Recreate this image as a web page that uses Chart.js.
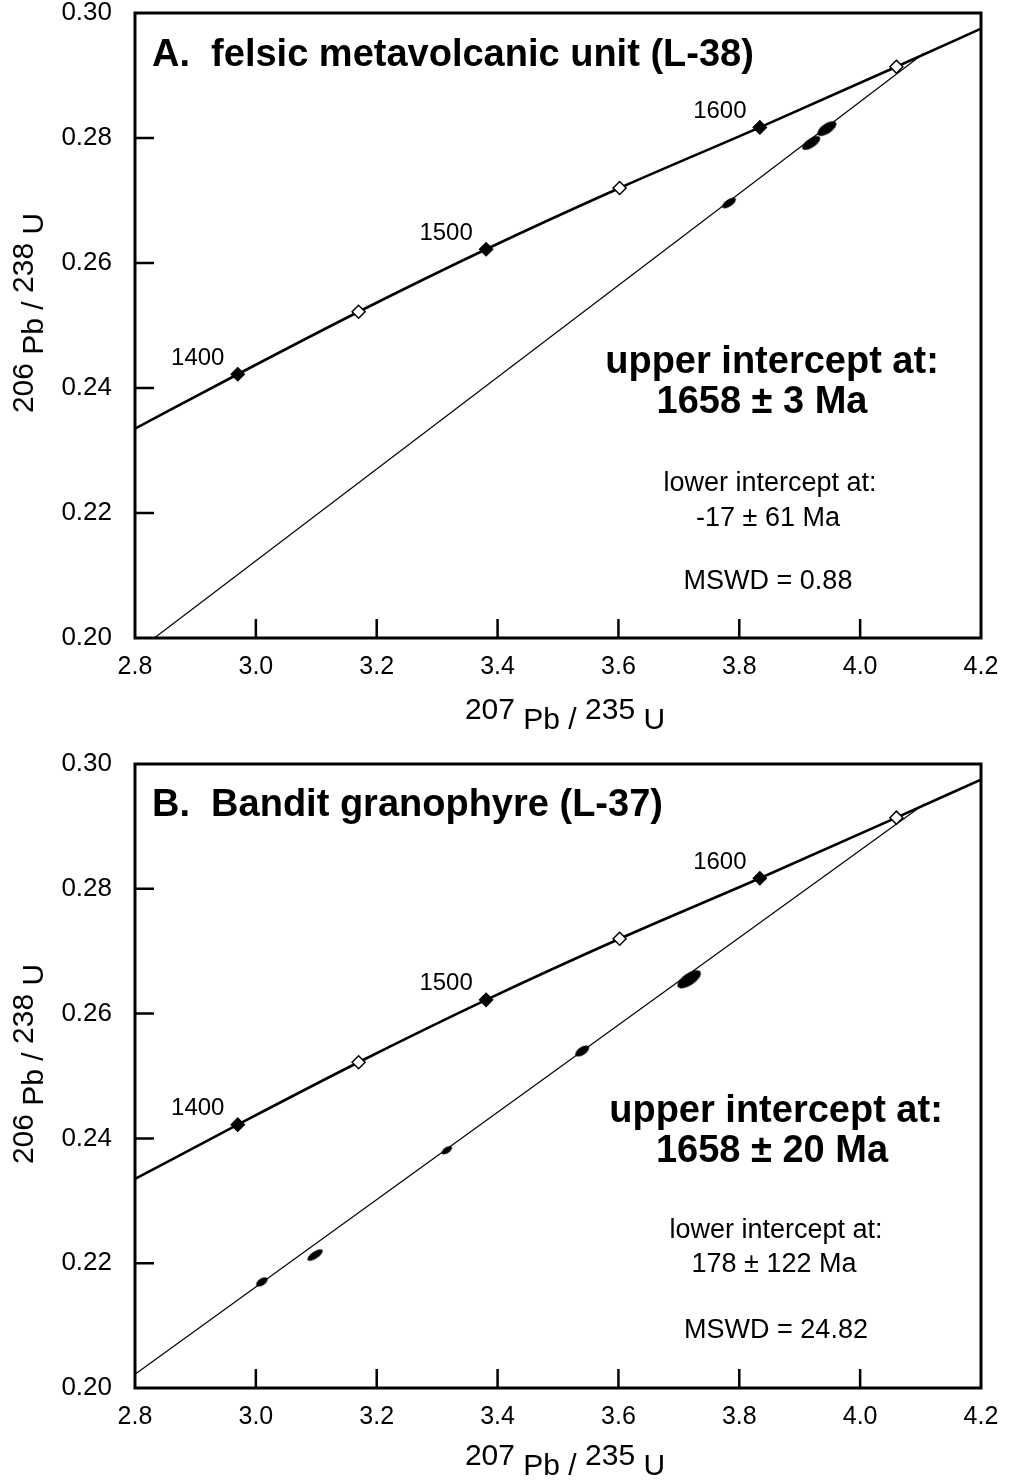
<!DOCTYPE html>
<html>
<head>
<meta charset="utf-8">
<script src="https://cdn.jsdelivr.net/npm/chart.js@4.4.0/dist/chart.umd.min.js"></script>
<style>
  html, body { margin: 0; padding: 0; background: #fff; }
  canvas { display: block; }
</style>
</head>
<body>
<canvas id="chartA" width="1009" height="741"></canvas>
<canvas id="chartB" width="1009" height="741"></canvas>
<script>
// Concordia curve (207Pb/235U vs 206Pb/238U)
const concordiaX = [2.800, 2.970, 3.170, 3.381, 3.602, 3.834, 4.060, 4.200];
const concordiaY = [0.2335, 0.2422, 0.2522, 0.2622, 0.2720, 0.2817, 0.2914, 0.2975];

// Age markers on the concordia (Ma)
const ages = [1400, 1450, 1500, 1550, 1600, 1650];
const ageX = [2.970, 3.170, 3.381, 3.602, 3.834, 4.060];
const ageY = [0.2422, 0.2522, 0.2622, 0.2720, 0.2817, 0.2914];
const labelledAges = [1400, 1500, 1600];

// A. felsic metavolcanic unit (L-38)
const discordiaAX = [2.832, 4.106];
const discordiaAY = [0.2000, 0.2936];
const zirconAX = [3.783, 3.919, 3.945];
const zirconAY = [0.2696, 0.2792, 0.2815];
const zirconALen = [16, 21, 22];
const zirconAWid = [7, 9, 10];

// B. Bandit granophyre (L-37)
const discordiaBX = [2.800, 4.106];
const discordiaBY = [0.2022, 0.2936];
const zirconBX = [3.010, 3.098, 3.316, 3.540, 3.717];
const zirconBY = [0.2170, 0.2213, 0.2381, 0.2540, 0.2655];
const zirconBLen = [13, 18, 12, 16, 27];
const zirconBWid = [7, 7, 6, 8, 12];

// Axis ticks
const xMin = 2.8, xMax = 4.2, xStep = 0.2;
const yMin = 0.20, yMax = 0.30, yStep = 0.02;

const FONT = "'Liberation Sans', Arial, Helvetica, sans-serif";

function toPoints(xs, ys) {
  return xs.map((x, i) => ({ x: x, y: ys[i] }));
}

// small filled ellipse used as the point style of an analysis
function ellipseImage(len, wid) {
  const c = document.createElement("canvas");
  c.width = Math.ceil(len) + 2;
  c.height = Math.ceil(wid) + 2;
  const g = c.getContext("2d");
  g.fillStyle = "#000";
  g.beginPath();
  g.ellipse(c.width / 2, c.height / 2, len / 2, wid / 2, 0, 0, Math.PI * 2);
  g.fill();
  return c;
}

// text with raised isotope numbers, e.g. 207 Pb / 235 U
function drawIsotopeLabel(ctx, cx, cy, parts) {
  ctx.font = "30px " + FONT;
  ctx.textAlign = "left";
  ctx.textBaseline = "alphabetic";
  const total = parts.reduce((s, p) => s + ctx.measureText(p.t).width, 0);
  let x = cx - total / 2;
  parts.forEach((p) => {
    ctx.fillText(p.t, x, cy + (p.up ? -5 : 5));
    x += ctx.measureText(p.t).width;
  });
}

const figurePlugin = {
  id: "figure",
  afterDraw(chart, args, opts) {
    const ctx = chart.ctx;
    const area = chart.chartArea;
    const xs = chart.scales.x;
    const ys = chart.scales.y;
    ctx.save();

    // frame
    ctx.strokeStyle = "#000";
    ctx.lineWidth = 3;
    ctx.strokeRect(area.left, area.top, area.right - area.left, area.bottom - area.top);

    // inward tick marks
    ctx.lineWidth = 2.5;
    ctx.beginPath();
    xs.ticks.forEach((t) => {
      const px = xs.getPixelForValue(t.value);
      if (px - area.left < 3 || area.right - px < 3) return;
      ctx.moveTo(px, area.bottom);
      ctx.lineTo(px, area.bottom - 19);
    });
    ys.ticks.forEach((t) => {
      const py = ys.getPixelForValue(t.value);
      if (py - area.top < 3 || area.bottom - py < 3) return;
      ctx.moveTo(area.left, py);
      ctx.lineTo(area.left + 19, py);
    });
    ctx.stroke();

    // age labels next to the filled markers
    ctx.fillStyle = "#000";
    ctx.font = "24px " + FONT;
    ctx.textAlign = "center";
    ctx.textBaseline = "middle";
    ages.forEach((a, i) => {
      if (!labelledAges.includes(a)) return;
      const px = xs.getPixelForValue(ageX[i]);
      const py = ys.getPixelForValue(ageY[i]);
      ctx.fillText(String(a), px - 40, py - 16);
    });

    // title
    ctx.font = "bold 38px " + FONT;
    ctx.textAlign = "left";
    ctx.textBaseline = "alphabetic";
    ctx.fillText(opts.title, area.left + 17, area.top + opts.titleDy);

    // intercept notes
    ctx.textAlign = "center";
    opts.notes.forEach((n) => {
      ctx.font = (n.bold ? "bold 38px " : "27px ") + FONT;
      ctx.fillText(n.text, n.x, area.top + n.dy);
    });

    // axis titles
    drawIsotopeLabel(ctx, 565, area.bottom + opts.xTitleDy, [
      { t: "207 ", up: true }, { t: "Pb", up: false }, { t: " / ", up: false },
      { t: "235 ", up: true }, { t: "U", up: false }
    ]);
    ctx.save();
    ctx.translate(38, area.top + 300);
    ctx.rotate(-Math.PI / 2);
    drawIsotopeLabel(ctx, 0, 0, [
      { t: "206 ", up: true }, { t: "Pb", up: false }, { t: " / ", up: false },
      { t: "238 ", up: true }, { t: "U", up: false }
    ]);
    ctx.restore();

    ctx.restore();
  }
};

function makeChart(id, cfg) {
  const ageMarkers = toPoints(ageX, ageY);
  const fills = ages.map((a) => (a % 100 === 0 ? "#000" : "#fff"));
  return new Chart(document.getElementById(id), {
    type: "scatter",
    data: {
      datasets: [
        {
          label: "markers",
          data: ageMarkers,
          pointStyle: "rectRot",
          pointRadius: 6.5,
          pointBackgroundColor: fills,
          pointBorderColor: "#000",
          pointBorderWidth: 1.5,
          showLine: false,
          order: 0
        },
        {
          label: "analyses",
          data: toPoints(cfg.zx, cfg.zy),
          pointStyle: cfg.zx.map((_, i) => ellipseImage(cfg.zlen[i], cfg.zwid[i])),
          pointRadius: 5,
          rotation: -34,
          showLine: false,
          order: 1
        },
        {
          label: "concordia",
          data: toPoints(concordiaX, concordiaY),
          showLine: true,
          borderColor: "#000",
          borderWidth: 2.6,
          pointRadius: 0,
          cubicInterpolationMode: "monotone",
          order: 3
        },
        {
          label: "discordia",
          data: toPoints(cfg.dx, cfg.dy),
          showLine: true,
          borderColor: "#000",
          borderWidth: 1.2,
          pointRadius: 0,
          order: 2
        }
      ]
    },
    options: {
      responsive: false,
      animation: false,
      events: [],
      layout: { padding: { top: cfg.top, right: 28, left: 0, bottom: 0 } },
      plugins: {
        legend: { display: false },
        tooltip: { enabled: false },
        figure: { title: cfg.title, titleDy: cfg.titleDy, xTitleDy: cfg.xTitleDy, notes: cfg.notes }
      },
      scales: {
        x: {
          type: "linear",
          min: xMin,
          max: xMax,
          grid: { display: false, drawTicks: true, tickLength: 17 },
          border: { display: false },
          ticks: {
            stepSize: xStep,
            padding: 0,
            color: "#000",
            font: { family: FONT, size: 25, lineHeight: 1 },
            maxRotation: 0,
            callback: (v) => Number(v).toFixed(1)
          },
          afterFit: (s) => { s.height = cfg.bottomSpace; }
        },
        y: {
          type: "linear",
          min: yMin,
          max: yMax,
          grid: { display: false, drawTicks: true, tickLength: 23 },
          border: { display: false },
          ticks: {
            stepSize: yStep,
            padding: 0,
            color: "#000",
            font: { family: FONT, size: 26, lineHeight: 1 },
            callback: (v) => Number(v).toFixed(2)
          },
          afterFit: (s) => { s.width = 135; }
        }
      }
    },
    plugins: [figurePlugin]
  });
}

makeChart("chartA", {
  top: 12,
  bottomSpace: 103,
  title: "A.  felsic metavolcanic unit (L-38)",
  titleDy: 53,
  xTitleDy: 86,
  dx: discordiaAX, dy: discordiaAY,
  zx: zirconAX, zy: zirconAY, zlen: zirconALen, zwid: zirconAWid,
  notes: [
    { text: "upper intercept at:", x: 772, dy: 360, bold: true },
    { text: "1658 \u00b1 3 Ma", x: 762, dy: 400, bold: true },
    { text: "lower intercept at:", x: 770, dy: 478 },
    { text: "-17 \u00b1 61 Ma", x: 768, dy: 513 },
    { text: "MSWD = 0.88", x: 768, dy: 576 }
  ]
});

makeChart("chartB", {
  top: 23,
  bottomSpace: 94,
  title: "B.  Bandit granophyre (L-37)",
  titleDy: 52,
  xTitleDy: 82,
  dx: discordiaBX, dy: discordiaBY,
  zx: zirconBX, zy: zirconBY, zlen: zirconBLen, zwid: zirconBWid,
  notes: [
    { text: "upper intercept at:", x: 776, dy: 358, bold: true },
    { text: "1658 \u00b1 20 Ma", x: 772, dy: 398, bold: true },
    { text: "lower intercept at:", x: 776, dy: 474 },
    { text: "178 \u00b1 122 Ma", x: 774, dy: 508 },
    { text: "MSWD = 24.82", x: 776, dy: 574 }
  ]
});
</script>
</body>
</html>
